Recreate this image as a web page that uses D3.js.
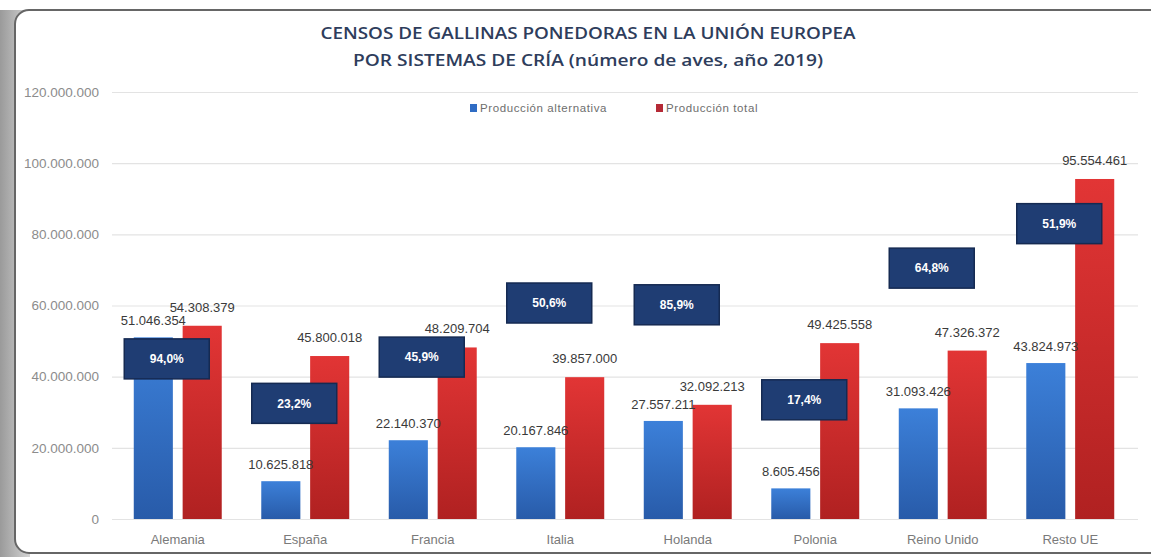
<!DOCTYPE html>
<html>
<head>
<meta charset="utf-8">
<script src="https://cdn.jsdelivr.net/npm/d3@7"></script>
<style>
  body { margin: 0; background: #ffffff; }
  svg { display: block; }
</style>
</head>
<body>
<div id="grafica"></div>
<script>
// Censos de gallinas ponedoras UE 2019

const categories = ["Alemania", "España", "Francia", "Italia", "Holanda", "Polonia", "Reino Unido", "Resto UE"]
const alternativa = [51046354, 10625818, 22140370, 20167846, 27557211, 8605456, 31093426, 43824973]
const total = [54308379, 45800018, 48209704, 39857000, 32092213, 49425558, 47326372, 95554461]
const porcentajes = ["94,0%", "23,2%", "45,9%", "50,6%", "85,9%", "17,4%", "64,8%", "51,9%"]
// altura (en aves) donde va cada recuadro de porcentaje
const porcentajeAt = [45000000, 32500000, 45500000, 60700000, 60200000, 33500000, 70500000, 83000000]
const yTicks = [0, 20000000, 40000000, 60000000, 80000000, 100000000, 120000000]
const series = ["Producción alternativa", "Producción total"]

let width = 1151
let height = 557

const es = d3.formatLocale({decimal: ",", thousands: ".", grouping: [3], currency: ["", "€"]})
const fmt = es.format(",d")

const svg = d3.select('#grafica')
    .append("svg")
    .attr("width", width)
    .attr("height", height)

const defs = svg.append("defs")
function grad(id, top, bottom) {
    let g = defs.append("linearGradient").attr("id", id)
        .attr("x1", 0).attr("y1", 0).attr("x2", 0).attr("y2", 1)
    g.append("stop").attr("offset", "0%").attr("stop-color", top)
    g.append("stop").attr("offset", "100%").attr("stop-color", bottom)
}
grad("gBlue", "#3c80d9", "#285ba9")
grad("gRed", "#e23535", "#b02121")
let side = defs.append("linearGradient").attr("id", "gSide")
    .attr("x1", 0).attr("y1", 0).attr("x2", 1).attr("y2", 0)
side.append("stop").attr("offset", "0%").attr("stop-color", "#9a9a9a")
side.append("stop").attr("offset", "100%").attr("stop-color", "#d4d4d4")

// marco
svg.append("rect").attr("x", 0).attr("y", 0).attr("width", 30).attr("height", height)
    .attr("fill", "url(#gSide)")
svg.append("rect").attr("x", 0).attr("y", 0).attr("width", width).attr("height", 10)
    .attr("fill", "#ffffff")
svg.append("rect")
    .attr("x", 15).attr("y", 10)
    .attr("width", 1160).attr("height", 543)
    .attr("rx", 14)
    .attr("fill", "#ffffff")
    .attr("stroke", "#666666")
    .attr("stroke-width", 2)

const xScale = d3.scaleBand()
    .domain(categories)
    .range([114, 1134])
    .paddingInner(0.31)
    .paddingOuter(0.155)

const xSub = d3.scaleBand()
    .domain(series)
    .range([0, xScale.bandwidth()])
    .paddingInner(0.2)

const yScale = d3.scaleLinear()
    .domain([0, 120000000])
    .range([519, 92])

// lineas de cuadricula
const grid = svg.append("g")
    .attr("transform", "translate(112,0)")
    .call(d3.axisLeft(yScale).tickValues(yTicks).tickSize(-1026).tickFormat(""))
grid.select(".domain").remove()
grid.selectAll("line").attr("stroke", "#e3e3e3").attr("stroke-width", 1.2)

const yAxis = svg.append("g")
    .attr("transform", "translate(112,0)")
    .call(d3.axisLeft(yScale).tickValues(yTicks).tickSize(0).tickPadding(13).tickFormat(fmt))
yAxis.select(".domain").remove()
yAxis.selectAll("text")
    .attr("fill", "#8c8c8c")
    .style("font-family", "'Liberation Sans', Arial, sans-serif")
    .style("font-size", "13.5px")

const xAxis = svg.append("g")
    .attr("transform", "translate(0,519)")
    .call(d3.axisBottom(xScale).tickSize(0).tickPadding(16))
xAxis.select(".domain").remove()
xAxis.selectAll("text")
    .attr("fill", "#7a7a7a")
    .style("font-family", "'Liberation Sans', Arial, sans-serif")
    .style("font-size", "13px")

const rows = categories.map((c, i) => ({cat: c, alt: alternativa[i], tot: total[i], pct: porcentajes[i], at: porcentajeAt[i]}))

const groups = svg.selectAll("g.grupo")
    .data(rows)
    .enter()
    .append("g")
    .attr("class", "grupo")
    .attr("transform", d => "translate(" + xScale(d.cat) + ",0)")

groups.append("rect")
    .attr("x", xSub(series[0]))
    .attr("y", d => yScale(d.alt))
    .attr("width", xSub.bandwidth())
    .attr("height", d => yScale(0) - yScale(d.alt))
    .attr("fill", "url(#gBlue)")

groups.append("rect")
    .attr("x", xSub(series[1]))
    .attr("y", d => yScale(d.tot))
    .attr("width", xSub.bandwidth())
    .attr("height", d => yScale(0) - yScale(d.tot))
    .attr("fill", "url(#gRed)")

const labelStyle = sel => sel
    .attr("text-anchor", "middle")
    .attr("fill", "#3a3a3a")
    .style("font-family", "'Liberation Sans', Arial, sans-serif")
    .style("font-size", "13px")

groups.append("text")
    .attr("x", xSub(series[0]) + xSub.bandwidth() / 2)
    .attr("y", d => yScale(d.alt) - 12)
    .text(d => fmt(d.alt))
    .call(labelStyle)

groups.append("text")
    .attr("x", xSub(series[1]) + xSub.bandwidth() / 2)
    .attr("y", d => yScale(d.tot) - 14)
    .text(d => fmt(d.tot))
    .call(labelStyle)

// recuadros de porcentaje
const boxW = 85, boxH = 40
const cajas = svg.selectAll("g.caja")
    .data(rows)
    .enter()
    .append("g")
    .attr("class", "caja")
    .attr("transform", d => "translate(" + (xScale(d.cat) + xScale.bandwidth() / 2 - 11) + "," + yScale(d.at) + ")")

cajas.append("rect")
    .attr("x", -boxW / 2)
    .attr("y", -boxH / 2)
    .attr("width", boxW)
    .attr("height", boxH)
    .attr("fill", "#1f3d73")
    .attr("stroke", "#152a52")
    .attr("stroke-width", 1.5)

cajas.append("text")
    .attr("text-anchor", "middle")
    .attr("dy", "0.35em")
    .attr("fill", "#ffffff")
    .style("font-family", "'Liberation Sans', Arial, sans-serif")
    .style("font-size", "12px")
    .style("font-weight", "bold")
    .text(d => d.pct)

// titulo
const titulo = ["CENSOS DE GALLINAS PONEDORAS EN LA UNIÓN EUROPEA", "POR SISTEMAS DE CRÍA (número de aves, año 2019)"]
const tituloAncho = [535, 470]
svg.selectAll("text.titulo")
    .data(titulo)
    .enter()
    .append("text")
    .attr("class", "titulo")
    .attr("x", 588)
    .attr("y", (d, i) => 39 + i * 27)
    .attr("text-anchor", "middle")
    .attr("textLength", (d, i) => tituloAncho[i])
    .attr("lengthAdjust", "spacingAndGlyphs")
    .attr("fill", "#2e3d5c")
    .style("font-family", "'Open Sans', 'Liberation Sans', sans-serif")
    .style("font-size", "16px")
    .style("font-weight", "600")
    .text(d => d)

// leyenda
const legend = svg.selectAll("g.leyenda")
    .data(series)
    .enter()
    .append("g")
    .attr("class", "leyenda")
    .attr("transform", (d, i) => "translate(" + (i == 0 ? 470 : 656) + ",108)")

legend.append("rect")
    .attr("x", 0).attr("y", -4)
    .attr("width", 7).attr("height", 8)
    .attr("fill", (d, i) => i == 0 ? "#2f6cc4" : "#b52a36")

legend.append("text")
    .attr("x", 10)
    .attr("dy", "0.35em")
    .attr("fill", "#6e6e6e")
    .style("font-family", "'Liberation Sans', Arial, sans-serif")
    .style("font-size", "11.5px")
    .style("letter-spacing", "0.6px")
    .text(d => d)
</script>
</body>
</html>
